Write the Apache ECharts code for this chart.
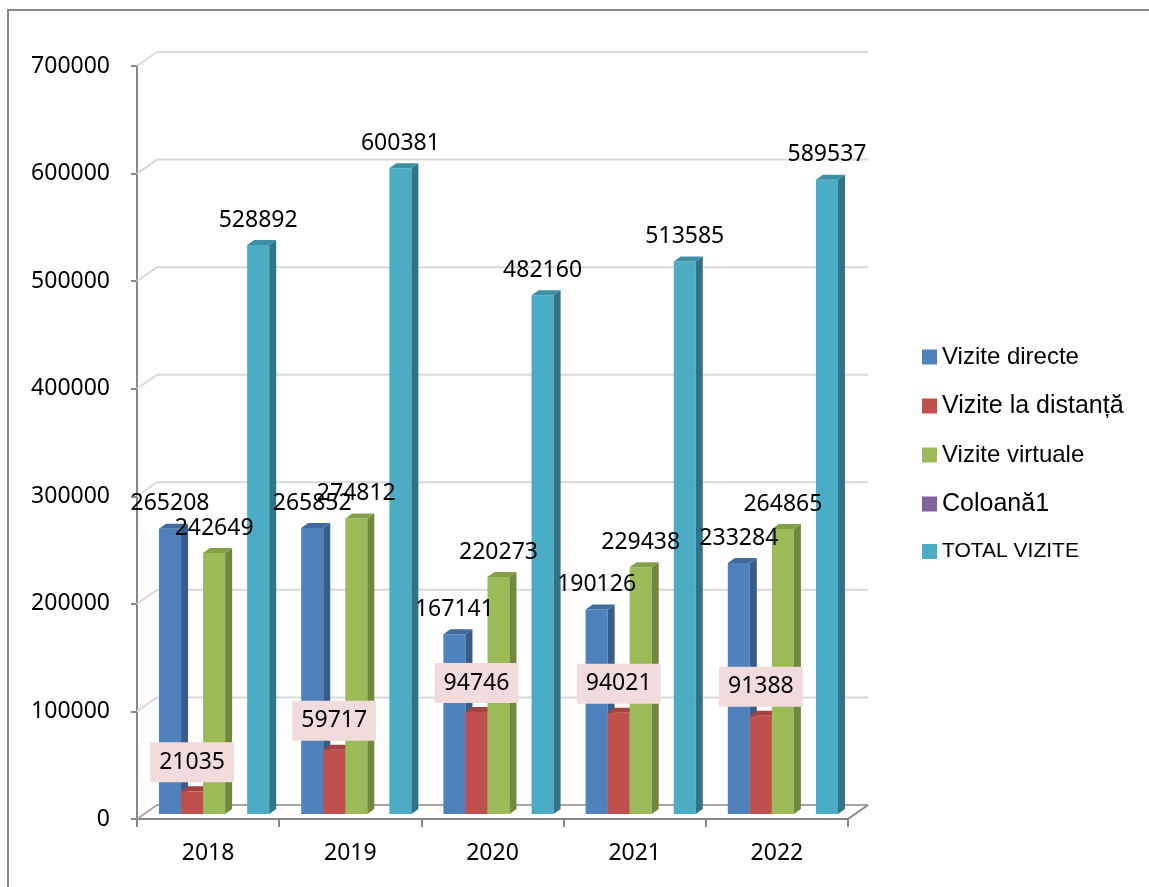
<!DOCTYPE html>
<html>
<head>
<meta charset="utf-8">
<script src="https://cdn.jsdelivr.net/npm/echarts@6/dist/echarts.min.js"></script>
<style>html,body{margin:0;padding:0;background:#fff;}#c{width:1149px;height:887px;}</style>
</head>
<body>
<div id="c"></div>
<script>
const categories = ['2018', '2019', '2020', '2021', '2022'];
const seriesNames = ['Vizite directe', 'Vizite la distanță', 'Vizite virtuale', 'Coloană1', 'TOTAL VIZITE'];
const vizDirecte = [265208, 265852, 167141, 190126, 233284];
const vizDistanta = [21035, 59717, 94746, 94021, 91388];
const vizVirtuale = [242649, 274812, 220273, 229438, 264865];
const coloana1 = [null, null, null, null, null];
const totalVizite = [528892, 600381, 482160, 513585, 589537];
const yTicks = [0, 100000, 200000, 300000, 400000, 500000, 600000, 700000];

const allValues = [vizDirecte, vizDistanta, vizVirtuale, coloana1, totalVizite];
const frontColors = ['#4f81bd', '#c0504d', '#9bbb59', '#8064a2', '#4bacc6'];
const sideColors = ['#385d8a', '#8c3836', '#71893f', '#5c4776', '#31748a'];
const topColors = ['#416a9e', '#a24340', '#83a049', '#6b548a', '#3d8fa6'];

const NUM_FONT = '"Noto Sans", sans-serif';
const DX = 7, DY = -5;       // bar depth
const WX = 20, WY = -14;     // wall depth
const SHIFT_X = 6, SHIFT_Y = -5;

function barRenderer(k) {
  return function (params, api) {
    const v = api.value(1);
    if (v == null || isNaN(v)) return null;
    const i = api.value(0);
    const p = api.coord([i, v]);
    const p0 = api.coord([i, 0]);
    const cw = api.size([1, 0])[0];
    const bw = cw * 0.155;
    const x0 = p[0] + SHIFT_X - 2.5 * bw + k * bw;
    const x1 = x0 + bw;
    const yt = p[1] + SHIFT_Y;
    const yb = p0[1] + SHIFT_Y;
    const children = [
      { type: 'rect', shape: { x: x0, y: yt, width: bw, height: yb - yt }, style: { fill: frontColors[k] } },
      { type: 'polygon', shape: { points: [[x1, yt], [x1 + DX, yt + DY], [x1 + DX, yb + DY], [x1, yb]] }, style: { fill: sideColors[k] } },
      { type: 'polygon', shape: { points: [[x0, yt], [x1, yt], [x1 + DX, yt + DY], [x0 + DX, yt + DY]] }, style: { fill: topColors[k] } }
    ];
    const label = String(v);
    if (k === 1) {
      children.push({
        type: 'text', z2: 100,
        style: {
          text: label, x: x0 + bw / 2, y: yt - 29, align: 'center', verticalAlign: 'middle',
          fill: '#000', font: '23px ' + NUM_FONT, lineHeight: 24,
          backgroundColor: '#f2dcdb', padding: [8, 9, 8, 9]
        }
      });
    } else {
      children.push({
        type: 'text', z2: 100,
        style: {
          text: label, x: x0 + bw / 2, y: yt - 25, align: 'center', verticalAlign: 'middle',
          fill: '#000', font: '23px ' + NUM_FONT
        }
      });
    }
    return { type: 'group', children: children };
  };
}

function wallRenderer(params, api) {
  const v = api.value(1);
  const cs = params.coordSys;
  const y = api.coord([0, v])[1];
  const isFloor = v === 0;
  const col = isFloor ? '#a6a6a6' : '#d9d9d9';
  const children = [
    { type: 'line', shape: { x1: cs.x, y1: y, x2: cs.x + WX, y2: y + WY }, style: { stroke: col, lineWidth: 2 } },
    { type: 'line', shape: { x1: cs.x + WX, y1: y + WY, x2: cs.x + cs.width + WX, y2: y + WY }, style: { stroke: col, lineWidth: 2 } }
  ];
  if (isFloor) {
    children.push({ type: 'line', shape: { x1: cs.x + cs.width, y1: y, x2: cs.x + cs.width + WX, y2: y + WY }, style: { stroke: '#888', lineWidth: 2 } });
  }
  return { type: 'group', children: children };
}

const legendSizes = [24, 25, 24, 25, 21];

const series = [
  {
    type: 'custom', name: '_wall', z: 1, silent: true,
    data: yTicks.map(v => [0, v]),
    renderItem: wallRenderer
  }
];
seriesNames.forEach((name, k) => {
  series.push({
    type: 'custom', name: name, z: 2,
    itemStyle: { color: frontColors[k] },
    data: categories.map((c, i) => [i, allValues[k][i]]),
    renderItem: barRenderer(k)
  });
});

const chart = echarts.init(document.getElementById('c'), null, { renderer: 'canvas' });
chart.setOption({
  animation: false,
  backgroundColor: '#fff',
  graphic: [{
    type: 'rect', z: 0, silent: true,
    shape: { x: 8, y: 10, width: 1300, height: 1000 },
    style: { fill: 'none', stroke: '#888', lineWidth: 2 }
  }],
  grid: { left: 137, right: 301, top: 66, bottom: 68 },
  xAxis: {
    type: 'category', data: categories,
    axisLine: { show: true, lineStyle: { color: '#888', width: 2 } },
    axisTick: { show: true, length: 8, lineStyle: { color: '#888', width: 2 } },
    axisLabel: { color: '#000', fontSize: 23, fontFamily: NUM_FONT, margin: 23 },
    splitLine: { show: false }
  },
  yAxis: {
    type: 'value', min: 0, max: 700000, interval: 100000,
    axisLine: { show: true, lineStyle: { color: '#888', width: 2 } },
    axisTick: { show: true, length: 6, lineStyle: { color: '#888', width: 2 } },
    axisLabel: { color: '#000', fontSize: 23, fontFamily: NUM_FONT, margin: 27, formatter: v => String(v) },
    splitLine: { show: false }
  },
  legend: {
    orient: 'vertical', left: 917, top: 340,
    itemWidth: 15, itemHeight: 15, itemGap: 24.5, icon: 'rect',
    data: seriesNames.map((n, k) => ({
      name: n,
      textStyle: { fontSize: legendSizes[k], fontFamily: '"Liberation Sans", Arial, sans-serif', color: '#000', lineHeight: 20 }
    })),
    textStyle: { color: '#000' }
  },
  series: series
});
</script>
</body>
</html>
